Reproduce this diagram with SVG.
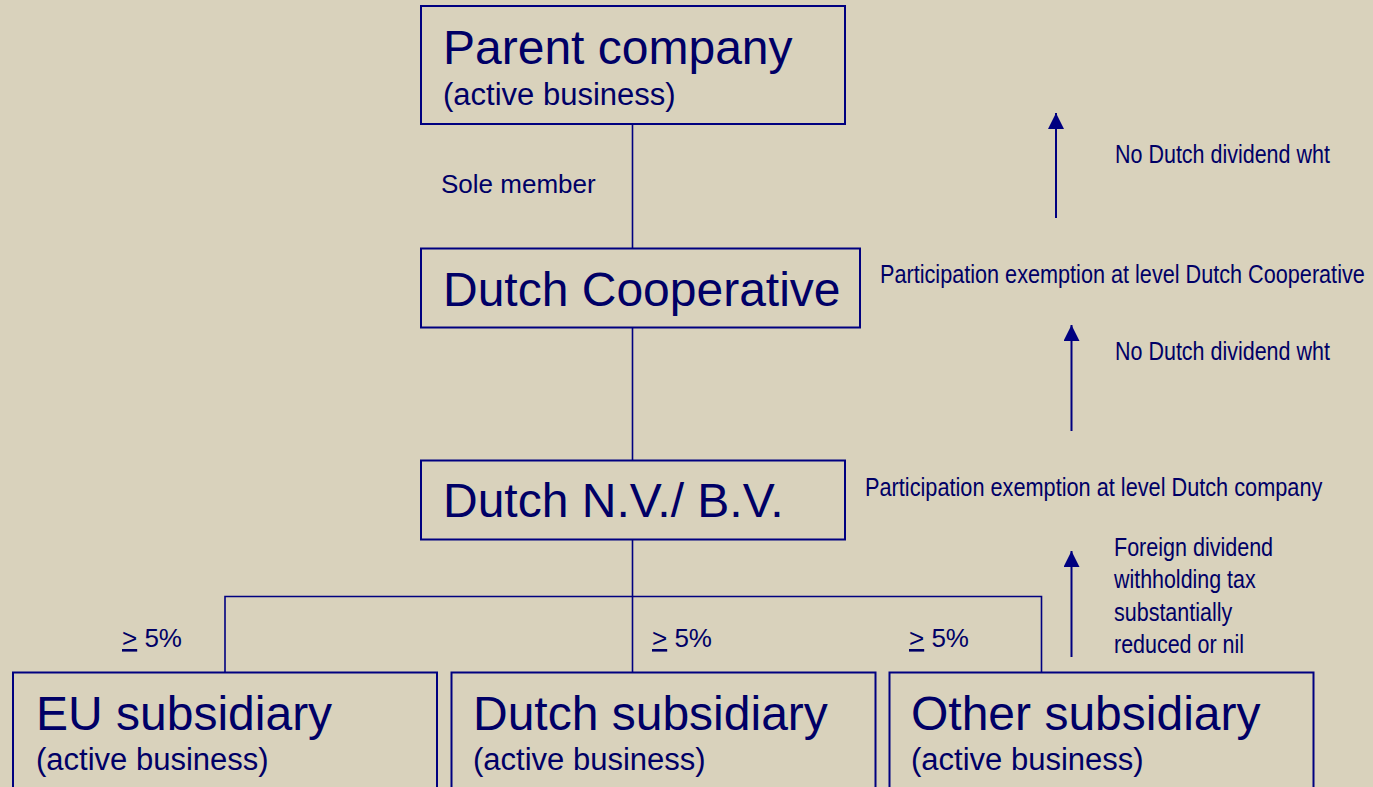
<svg xmlns="http://www.w3.org/2000/svg" width="1373" height="787" viewBox="0 0 1373 787">
<defs>
<style>
.bg{fill:#D9D2BC}
.box{fill:none;stroke:#000080;stroke-width:2}
.ln{fill:none;stroke:#000080;stroke-width:1.6}
.t{font-family:"Liberation Sans",Arial,sans-serif;fill:#000066}
.big{font-size:48px}
.sub{font-size:31px}
.lab{font-size:26px}
.nar{font-family:"Liberation Sans",Arial,sans-serif;fill:#000066;font-size:26px}
</style>
<marker id="ah2" viewBox="0 0 16 16" refX="16" refY="8" markerWidth="16" markerHeight="16" markerUnits="userSpaceOnUse" orient="auto">
<path d="M0,0 L16,8 L0,16 z" fill="#000080"/>
</marker>
</defs>
<rect class="bg" x="0" y="0" width="1373" height="787"/>

<g id="connectors">
<line class="ln" x1="632.5" y1="124" x2="632.5" y2="248"/>
<line class="ln" x1="632.5" y1="327" x2="632.5" y2="460"/>
<line class="ln" x1="632.5" y1="539" x2="632.5" y2="672"/>
<polyline class="ln" points="225,672 225,596.5 1041.5,596.5 1041.5,672"/>
</g>

<g id="arrows">
<line x1="1056" y1="218" x2="1056" y2="113" stroke="#000080" stroke-width="2" marker-end="url(#ah2)"/>
<line x1="1071.5" y1="431" x2="1071.5" y2="325" stroke="#000080" stroke-width="2" marker-end="url(#ah2)"/>
<line x1="1071.5" y1="657" x2="1071.5" y2="551" stroke="#000080" stroke-width="2" marker-end="url(#ah2)"/>
</g>

<g id="parent">
<rect class="box" x="421" y="6" width="424" height="118"/>
<text class="t big" x="443" y="64">Parent company</text>
<text class="t sub" x="443" y="105">(active business)</text>
</g>

<g id="coop">
<rect class="box" x="421" y="248.5" width="439" height="79"/>
<text class="t big" x="443" y="306">Dutch Cooperative</text>
</g>

<g id="nvbv">
<rect class="box" x="421" y="460.5" width="424" height="79"/>
<text class="t big" x="443" y="517">Dutch N.V./ B.V.</text>
</g>

<g id="eu">
<rect class="box" x="13" y="672.5" width="424" height="140"/>
<text class="t big" x="36" y="730">EU subsidiary</text>
<text class="t sub" x="36" y="770">(active business)</text>
</g>

<g id="dutchsub">
<rect class="box" x="451.5" y="672.5" width="424" height="140"/>
<text class="t big" x="473" y="730">Dutch subsidiary</text>
<text class="t sub" x="473" y="770">(active business)</text>
</g>

<g id="othersub">
<rect class="box" x="889.5" y="672.5" width="424" height="140"/>
<text class="t big" x="911" y="730">Other subsidiary</text>
<text class="t sub" x="911" y="770">(active business)</text>
</g>

<g id="labels">
<text class="t lab" x="441" y="193">Sole member</text>
<text class="t lab" x="122" y="647"><tspan text-decoration="underline">&gt;</tspan> 5%</text>
<text class="t lab" x="652" y="647"><tspan text-decoration="underline">&gt;</tspan> 5%</text>
<text class="t lab" x="909" y="647"><tspan text-decoration="underline">&gt;</tspan> 5%</text>
<text class="nar" transform="translate(1115,163) scale(0.833,1)" textLength="258" lengthAdjust="spacingAndGlyphs">No Dutch dividend wht</text>
<text class="nar" transform="translate(880,283) scale(0.833,1)" textLength="582" lengthAdjust="spacingAndGlyphs">Participation exemption at level Dutch Cooperative</text>
<text class="nar" transform="translate(1115,360) scale(0.833,1)" textLength="258" lengthAdjust="spacingAndGlyphs">No Dutch dividend wht</text>
<text class="nar" transform="translate(865,496) scale(0.833,1)" textLength="549" lengthAdjust="spacingAndGlyphs">Participation exemption at level Dutch company</text>
<text class="nar" transform="translate(1114,556) scale(0.833,1)" textLength="191" lengthAdjust="spacingAndGlyphs">Foreign dividend</text>
<text class="nar" transform="translate(1114,588) scale(0.833,1)" textLength="170" lengthAdjust="spacingAndGlyphs">withholding tax</text>
<text class="nar" transform="translate(1114,621) scale(0.833,1)" textLength="142" lengthAdjust="spacingAndGlyphs">substantially</text>
<text class="nar" transform="translate(1114,653) scale(0.833,1)" textLength="156" lengthAdjust="spacingAndGlyphs">reduced or nil</text>
</g>
</svg>
